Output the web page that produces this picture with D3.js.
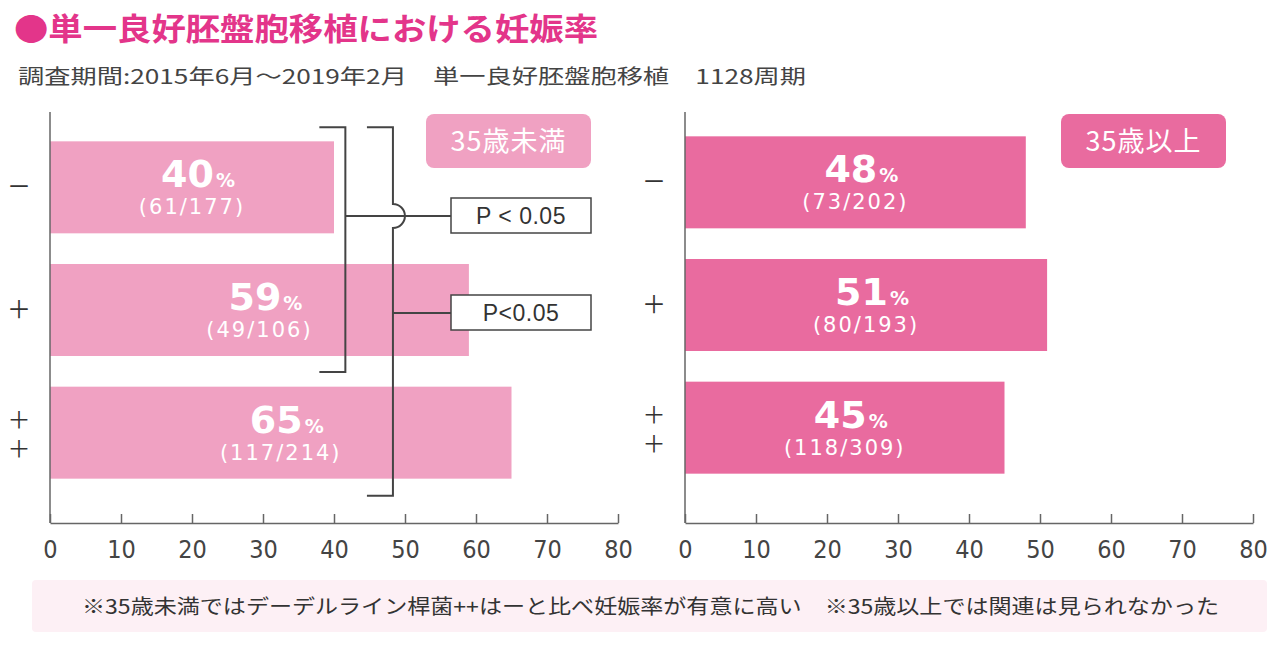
<!DOCTYPE html>
<html><head><meta charset="utf-8">
<script src="https://cdn.jsdelivr.net/npm/d3@7"></script>
<style>
html,body{margin:0;padding:0;background:#fff;}
svg{display:block;}
</style></head>
<body>
<svg id="c" width="1280" height="650"></svg>
<script>
// ---- data ----
const categories = ["−", "+", "++"];
const under35Values = [40, 59, 65];
const under35Fractions = ["61/177", "49/106", "117/214"];
const over35Values = [48, 51, 45];
const over35Fractions = ["73/202", "80/193", "118/309"];
const xTicks = [0, 10, 20, 30, 40, 50, 60, 70, 80];
const panelLabels = ["35歳未満", "35歳以上"];
const pLabels = ["P < 0.05", "P<0.05"];
const titleText = "●単一良好胚盤胞移植における妊娠率";
const subtitleText = "調査期間:2015年6月～2019年2月　単一良好胚盤胞移植　1128周期";
const footerText = "※35歳未満ではデーデルライン桿菌++はーと比べ妊娠率が有意に高い　※35歳以上では関連は見られなかった";

const svg = d3.select("#c");
const JP = '"Noto Sans CJK JP","Noto Sans",sans-serif';
const NUM = '"Liberation Sans Narrow","DejaVu Sans Condensed","Liberation Sans",sans-serif';
const BOLD = '"DejaVu Sans","Liberation Sans",sans-serif';

// ---- title ----
svg.append("text").attr("x", 14).attr("y", 40)
  .attr("font-family", JP).attr("font-weight", 700).attr("font-size", 31)
  .attr("fill", "#e3358a").attr("textLength", 584).attr("lengthAdjust", "spacingAndGlyphs")
  .text(titleText);
svg.append("text").attr("x", 18).attr("y", 84)
  .attr("font-family", JP).attr("font-size", 20)
  .attr("fill", "#444").attr("textLength", 788).attr("lengthAdjust", "spacingAndGlyphs")
  .text(subtitleText);

// ---- footer ----
svg.append("rect").attr("x", 32).attr("y", 580).attr("width", 1235).attr("height", 52)
  .attr("rx", 4).attr("fill", "#fdf0f5");
svg.append("text").attr("x", 82).attr("y", 614)
  .attr("font-family", JP).attr("font-size", 20)
  .attr("fill", "#333").attr("textLength", 1137).attr("lengthAdjust", "spacingAndGlyphs")
  .text(footerText);

function panel(opts) {
  const g = svg.append("g");
  const x = d3.scaleLinear().domain([0, 80]).range([opts.x0, opts.x0 + 568]);
  const y = d3.scaleBand().domain(categories).range(opts.yRange).paddingInner(0.25).paddingOuter(0.125);
  const axisY = 523;

  // bars
  g.selectAll("rect.bar").data(opts.values).join("rect")
    .attr("class", "bar")
    .attr("x", x(0)).attr("y", (d, i) => y(categories[i]))
    .attr("width", d => x(d) - x(0)).attr("height", y.bandwidth())
    .attr("fill", opts.color);

  // value labels
  opts.values.forEach((v, i) => {
    const cx = (x(0) + x(v)) / 2;
    const cy = y(categories[i]) + y.bandwidth() / 2;
    const t = g.append("text").attr("x", cx + 6).attr("y", cy)
      .attr("text-anchor", "middle").attr("fill", "#fff").attr("font-family", BOLD).attr("font-weight", 700);
    t.append("tspan").attr("font-size", 38).attr("letter-spacing", 0).text(v);
    t.append("tspan").attr("font-size", 19).attr("dx", 2).text("%");
    g.append("text").attr("x", cx).attr("y", cy + 27)
      .attr("text-anchor", "middle").attr("fill", "#fff").attr("font-family", BOLD)
      .attr("font-size", 21).attr("letter-spacing", 2).text("(" + opts.fractions[i] + ")");
  });

  // y axis line
  g.append("line").attr("x1", x(0)).attr("x2", x(0)).attr("y1", 112).attr("y2", axisY)
    .attr("stroke", "#666").attr("stroke-width", 1.5);

  // x axis
  const ax = g.append("g").attr("transform", `translate(0,${axisY})`)
    .call(d3.axisBottom(x).tickValues(xTicks).tickSizeInner(-9).tickSizeOuter(0).tickPadding(17));
  ax.select(".domain").attr("stroke", "#666").attr("stroke-width", 1.5);
  ax.selectAll(".tick line").attr("stroke", "#666").attr("stroke-width", 1.5);
  ax.selectAll(".tick text").attr("font-family", NUM).attr("font-size", 25).attr("fill", "#444");

  // category labels
  categories.forEach((c, i) => {
    const cy = y(c) + y.bandwidth() / 2;
    const lx = x(0) - 31;
    if (c === "++") {
      g.append("text").attr("x", lx).attr("y", cy + 4).attr("text-anchor", "middle")
        .style("writing-mode", "vertical-rl").attr("letter-spacing", 6)
        .attr("font-family", JP).attr("font-size", 23).attr("fill", "#333").text("＋＋");
    } else {
      g.append("text").attr("x", lx).attr("y", cy + 8).attr("text-anchor", "middle")
        .attr("font-family", JP).attr("font-size", 24).attr("fill", "#333").text(c === "−" ? "－" : "＋");
    }
  });

  // panel tag
  g.append("rect").attr("x", opts.tagX).attr("y", 114).attr("width", 165).attr("height", 54)
    .attr("rx", 8).attr("fill", opts.color);
  g.append("text").attr("x", opts.tagX + 82.5).attr("y", 151).attr("text-anchor", "middle")
    .attr("font-family", JP).attr("font-size", 27).attr("letter-spacing", 1).attr("fill", "#fff").text(opts.label);

  return { g, x, y };
}

const L = panel({ x0: 50, yRange: [126, 494], values: under35Values, fractions: under35Fractions,
  color: "#f0a1c2", tagX: 426, label: panelLabels[0] });
panel({ x0: 685, yRange: [121, 489], values: over35Values, fractions: over35Fractions,
  color: "#e96b9f", tagX: 1061, label: panelLabels[1] });

// ---- significance brackets (left panel) ----
const g = L.g, y = L.y, x = L.x;
const top1 = y("−") - 14, bot1 = y("+") + y.bandwidth() + 16;
const top2 = top1, bot2 = y("++") + y.bandwidth() + 17;
const bx1 = x(41.6), bx2 = x(48.3);
function st(sel) { return sel.attr("stroke", "#444").attr("stroke-width", 2).attr("fill", "none"); }

const boxX = 451, boxW = 140;
const p1y = 216, p2y = 313;
const r = 12;
st(g.append("path").attr("d", `M${bx1 - 26},${top1}H${bx1}V${bot1}H${bx1 - 26}`));
st(g.append("path").attr("d",
  `M${bx2 - 26},${top2}H${bx2}V${p1y - r}A${r},${r} 0 0 1 ${bx2},${p1y + r}V${bot2}H${bx2 - 26}`));
st(g.append("line").attr("x1", bx1).attr("x2", boxX).attr("y1", p1y).attr("y2", p1y));
st(g.append("line").attr("x1", bx2).attr("x2", boxX).attr("y1", p2y).attr("y2", p2y));

[[p1y, pLabels[0]], [p2y, pLabels[1]]].forEach(([cy, lab]) => {
  g.append("rect").attr("x", boxX).attr("y", cy - 18).attr("width", boxW).attr("height", 35)
    .attr("fill", "#fff").attr("stroke", "#444").attr("stroke-width", 1.5);
  g.append("text").attr("x", boxX + boxW / 2).attr("y", cy + 8).attr("text-anchor", "middle")
    .attr("font-family", '"Liberation Sans","Noto Sans",sans-serif').attr("font-size", 23)
    .attr("letter-spacing", 0.5).attr("fill", "#333")
    .text(lab);
});
</script>
</body></html>
